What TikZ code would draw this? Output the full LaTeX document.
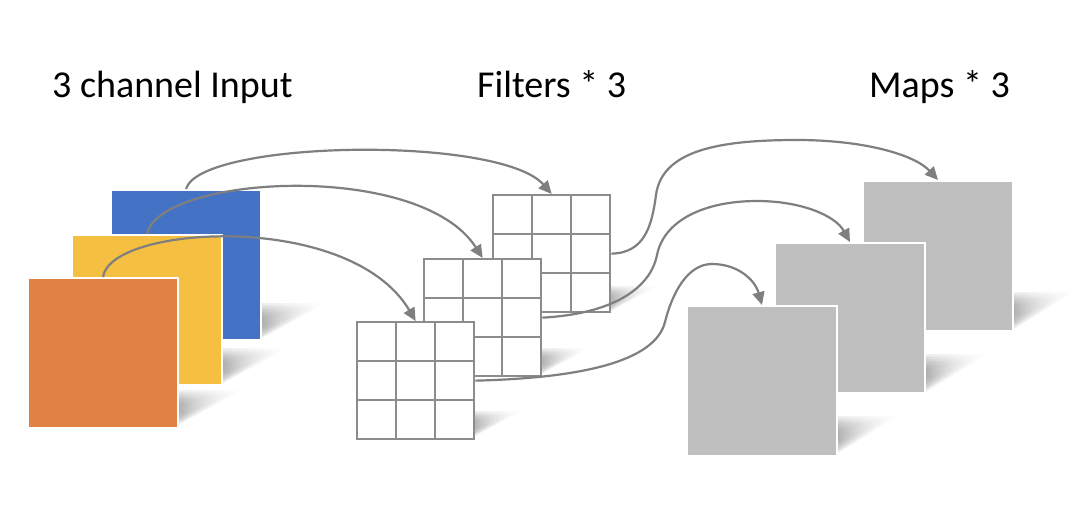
\documentclass[tikz,border=0pt]{standalone}
\usepackage{fontspec}
\setmainfont{Carlito}
\usetikzlibrary{arrows.meta,calc}
\definecolor{inblue}{HTML}{4472C4}
\definecolor{inyellow}{HTML}{F5BF42}
\definecolor{inorange}{HTML}{DF8244}
\definecolor{mapgray}{HTML}{BFBFBF}
\definecolor{linegray}{HTML}{7F7F7F}
\definecolor{gridgray}{HTML}{8C8C8C}
% soft cast shadow: #1 = right edge x, #2 = bottom y, #3 = horizontal reach, #4 = height
\newcommand\castshadow[4]{%
  \foreach \i in {0,...,6}{%
    \pgfmathsetmacro\dd{\i*#4/16}%
    \shade[left color=black!75, right color=white, opacity=0.1]
      ({#1-10},{#2-\dd}) --
      ({#1+#3*\dd/#4-1.2*\dd},{#2-\dd}) --
      ({#1+#3*(#4-\dd)/#4-1.2*\dd},{#2-#4+\dd}) --
      ({#1-10},{#2-#4+\dd}) -- cycle;
  }}
\tikzset{
  layer/.style={draw=white, line width=2pt, minimum size=150pt, inner sep=0pt, anchor=north west},
  filt/.style={draw=gridgray, line width=2.3pt, fill=white, minimum size=117pt, inner sep=0pt, anchor=north west,
    path picture={
      \foreach \t in {0.3333,0.6667}{
        \draw[gridgray,line width=2.3pt] ($(path picture bounding box.north west)!\t!(path picture bounding box.north east)$) -- ($(path picture bounding box.south west)!\t!(path picture bounding box.south east)$);
        \draw[gridgray,line width=2.3pt] ($(path picture bounding box.north west)!\t!(path picture bounding box.south west)$) -- ($(path picture bounding box.north east)!\t!(path picture bounding box.south east)$);
      }}},
  conn/.style={draw=linegray, line width=2.2pt, -{Triangle[length=13pt,width=12pt]}},
  title/.style={anchor=base west, font=\fontsize{38}{44}\selectfont, inner sep=0pt}
}
\begin{document}
\begin{tikzpicture}[x=1pt,y=-1pt]
\useasboundingbox (0,0) rectangle (1080,515);
\fill[white] (0,0) rectangle (1080,515);

% titles
\node[title] (t1) at (52,97) {3 channel Input};
\node[title] (t2) at (477,97) {Filters * 3};
\node[title] (t3) at (869,97) {Maps * 3};

% input channels
\castshadow{260}{339}{66}{36}
\node[layer, fill=inblue] (blue) at (110,189) {};
\castshadow{221}{384}{66}{36}
\node[layer, fill=inyellow] (yellow) at (71,234) {};
\castshadow{176}{426}{66}{36}
\node[layer, fill=inorange] (orange) at (27,277) {};

% filters
\castshadow{609}{312}{48}{26}
\node[filt] (f3) at (492,194) {};
\castshadow{541}{374}{48}{26}
\node[filt] (f2) at (423,258) {};
\castshadow{473}{437}{48}{26}
\node[filt] (f1) at (356,321) {};

% maps
\castshadow{1012}{330}{62}{38}
\node[layer, fill=mapgray] (m3) at (862,180) {};
\castshadow{925}{392}{62}{38}
\node[layer, fill=mapgray] (m2) at (774,242) {};
\castshadow{836}{454}{62}{38}
\node[layer, fill=mapgray] (m1) at (686,305) {};

% connectors input -> filters
\draw[conn] (blue.north) .. controls (200,140) and (500,135) .. (f3.north);
\draw[conn] (yellow.north) .. controls (160,175) and (420,160) .. (f2.north);
\draw[conn] (orange.north) .. controls (110,225) and (350,210) .. (f1.north);

% connectors filters -> maps
\draw[conn] (f3.east) .. controls (645,253) and (652,225) .. (656,195)
  .. controls (662,150) and (720,140) .. (797,140)
  .. controls (865,140) and (915,155) .. (m3.north);
\draw[conn] (f2.east) .. controls (610,314) and (650,290) .. (657,255)
  .. controls (664,220) and (705,201) .. (757,201)
  .. controls (800,201) and (835,215) .. (m2.north);
\draw[conn] (f1.east) .. controls (580,378) and (655,362) .. (665,322)
  .. controls (672.5,292) and (688,264) .. (712,264)
  .. controls (738,264) and (755,280) .. (m1.north);
\end{tikzpicture}
\end{document}
